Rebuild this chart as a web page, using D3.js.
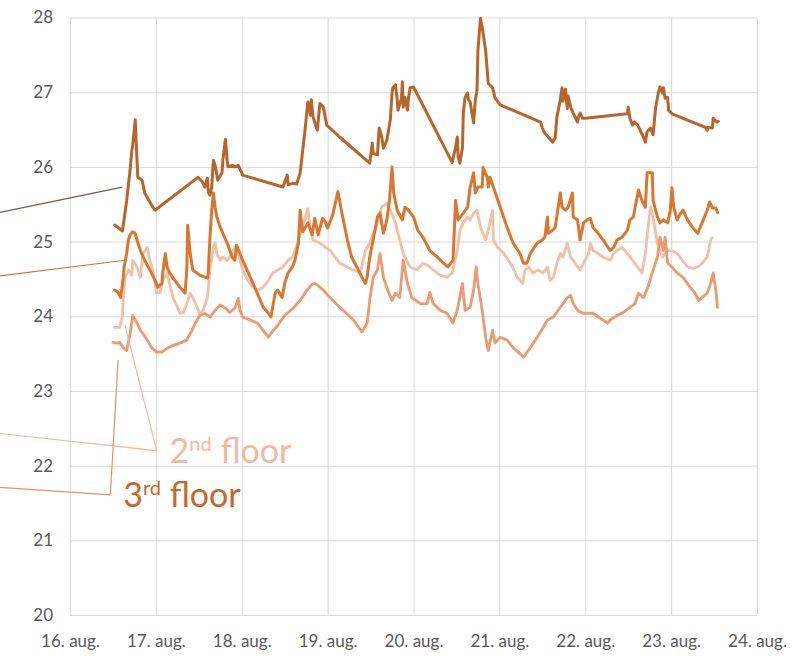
<!DOCTYPE html>
<html>
<head>
<meta charset="utf-8">
<script src="https://cdn.jsdelivr.net/npm/d3@7"></script>
<style>
  html, body { margin: 0; padding: 0; background: #fff; }
  svg { display: block; }
  .tick text { font-family: Lato, "Open Sans", sans-serif; fill: #595959; }
</style>
</head>
<body>
<svg id="chart" width="794" height="656"></svg>
<script>
// Indoor temperature (°C), 16–24 August; time = day of month with fraction of day.
const dayTicks = [16, 17, 18, 19, 20, 21, 22, 23, 24];
const tempTicks = [20, 21, 22, 23, 24, 25, 26, 27, 28];

const upperSeriesA = [
  [16.52,25.22],[16.56,25.19],[16.61,25.14],[16.64,25.38],[16.66,25.55],[16.68,25.76],[16.70,25.96],
  [16.72,26.22],[16.73,26.29],[16.76,26.63],[16.78,26.09],[16.79,25.86],[16.84,25.82],[16.87,25.65],
  [16.97,25.45],[16.99,25.42],[17.49,25.86],[17.54,25.80],[17.57,25.73],[17.60,25.85],[17.61,25.66],
  [17.63,25.62],[17.65,25.73],[17.67,26.09],[17.69,26.02],[17.71,25.89],[17.72,25.82],[17.77,25.92],
  [17.78,26.09],[17.81,26.37],[17.83,26.09],[17.84,26.00],[17.89,26.02],[17.92,26.00],[17.96,26.02],
  [18.00,25.92],[18.01,25.89],[18.48,25.73],[18.53,25.89],[18.54,25.76],[18.59,25.78],[18.64,25.77],
  [18.68,25.92],[18.70,26.12],[18.74,26.53],[18.76,26.76],[18.77,26.87],[18.80,26.69],[18.81,26.90],
  [18.83,26.67],[18.88,26.49],[18.91,26.85],[18.95,26.80],[18.99,26.56],[19.14,26.40],[19.49,26.05],
  [19.52,26.32],[19.53,26.18],[19.58,26.16],[19.60,26.52],[19.63,26.40],[19.65,26.25],[19.69,26.36],
  [19.73,26.63],[19.75,26.99],[19.76,27.06],[19.79,27.10],[19.81,26.90],[19.82,26.76],[19.86,26.92],
  [19.87,27.14],[19.88,26.80],[19.90,26.93],[19.93,26.76],[19.94,26.90],[19.96,27.06],[20.00,27.07],
  [20.45,26.06],[20.49,26.26],[20.51,26.40],[20.52,26.13],[20.54,26.05],[20.57,26.26],[20.58,26.72],
  [20.60,26.93],[20.63,26.99],[20.64,26.90],[20.66,26.87],[20.68,26.72],[20.70,26.59],[20.72,26.90],
  [20.74,27.03],[20.75,27.56],[20.78,27.99],[20.80,27.87],[20.84,27.56],[20.87,27.12],[20.92,27.06],
  [20.95,26.92],[21.01,26.83],[21.48,26.60],[21.50,26.52],[21.53,26.45],[21.57,26.40],[21.62,26.33],
  [21.65,26.39],[21.67,26.67],[21.71,26.90],[21.73,27.06],[21.74,26.88],[21.77,27.04],[21.79,26.78],
  [21.80,26.95],[21.83,26.80],[21.86,26.72],[21.91,26.60],[21.92,26.67],[21.94,26.72],[21.97,26.65],
  [22.00,26.65],[22.49,26.71],[22.50,26.80],[22.52,26.65],[22.55,26.56],[22.57,26.60],[22.61,26.56],
  [22.64,26.49],[22.68,26.39],[22.70,26.33],[22.72,26.47],[22.76,26.52],[22.79,26.43],[22.82,26.80],
  [22.84,26.92],[22.85,26.99],[22.87,27.07],[22.90,26.99],[22.91,27.06],[22.93,26.92],[22.96,26.93],
  [22.97,26.76],[23.01,26.71],[23.40,26.53],[23.42,26.49],[23.43,26.53],[23.48,26.52],[23.49,26.65],
  [23.53,26.60],[23.55,26.61]
];

const upperSeriesB = [
  [16.52,24.35],[16.56,24.32],[16.59,24.25],[16.62,24.52],[16.63,24.66],[16.66,24.84],[16.68,25.02],
  [16.70,25.09],[16.73,25.13],[16.76,25.11],[16.78,25.02],[16.82,24.88],[16.87,24.75],[16.93,24.62],
  [16.99,24.48],[17.02,24.39],[17.07,24.44],[17.08,24.58],[17.11,24.84],[17.13,24.66],[17.16,24.58],
  [17.22,24.48],[17.28,24.39],[17.34,24.31],[17.36,24.62],[17.37,25.22],[17.40,24.84],[17.43,24.62],
  [17.51,24.55],[17.60,24.51],[17.61,24.58],[17.63,25.06],[17.65,25.42],[17.67,25.65],[17.69,25.46],
  [17.71,25.33],[17.75,25.19],[17.83,24.98],[17.89,24.79],[17.92,24.75],[17.94,24.95],[17.98,24.84],
  [18.01,24.75],[18.10,24.52],[18.18,24.31],[18.25,24.12],[18.31,24.04],[18.34,23.99],[18.36,24.12],
  [18.39,24.31],[18.42,24.35],[18.47,24.25],[18.50,24.44],[18.54,24.58],[18.59,24.66],[18.62,24.75],
  [18.66,24.98],[18.68,25.42],[18.71,25.13],[18.77,25.25],[18.82,25.09],[18.85,25.31],[18.89,25.09],
  [18.94,25.31],[18.97,25.27],[19.00,25.18],[19.06,25.36],[19.12,25.67],[19.17,25.36],[19.23,25.02],
  [19.28,24.79],[19.34,24.66],[19.40,24.52],[19.44,24.44],[19.46,24.52],[19.49,24.79],[19.53,25.02],
  [19.58,25.33],[19.61,25.38],[19.65,25.11],[19.69,25.29],[19.72,25.55],[19.75,26.00],[19.77,25.65],
  [19.81,25.42],[19.87,25.29],[19.90,25.46],[19.94,25.42],[20.00,25.33],[20.05,25.15],[20.11,25.06],
  [20.19,24.88],[20.28,24.79],[20.35,24.71],[20.40,24.66],[20.46,24.75],[20.49,25.55],[20.52,25.29],
  [20.58,25.38],[20.63,25.46],[20.66,25.73],[20.70,25.92],[20.72,25.65],[20.75,25.73],[20.80,25.73],
  [20.81,25.99],[20.86,25.86],[20.87,25.73],[20.89,25.86],[20.93,25.73],[21.01,25.46],[21.09,25.19],
  [21.16,24.98],[21.24,24.84],[21.28,24.71],[21.32,24.71],[21.36,24.84],[21.44,24.98],[21.50,25.02],
  [21.53,25.06],[21.56,25.33],[21.57,25.11],[21.62,25.15],[21.65,25.19],[21.71,25.65],[21.73,25.46],
  [21.77,25.42],[21.80,25.46],[21.85,25.65],[21.86,25.33],[21.91,25.29],[21.94,25.02],[21.98,25.25],
  [22.02,25.29],[22.06,25.31],[22.09,25.19],[22.15,25.11],[22.21,25.02],[22.29,24.88],[22.33,24.92],
  [22.37,25.02],[22.43,25.06],[22.49,25.15],[22.52,25.29],[22.56,25.33],[22.62,25.69],[22.66,25.55],
  [22.70,25.46],[22.72,25.92],[22.78,25.92],[22.79,25.55],[22.84,25.33],[22.87,25.25],[22.91,25.29],
  [22.96,25.25],[22.99,25.42],[23.01,25.72],[23.03,25.46],[23.07,25.29],[23.11,25.38],[23.14,25.42],
  [23.19,25.29],[23.25,25.19],[23.31,25.11],[23.36,25.25],[23.42,25.42],[23.45,25.53],[23.48,25.45],
  [23.52,25.45],[23.54,25.39]
];

const secondFloor = [
  [16.52,23.85],[16.58,23.85],[16.61,23.99],[16.62,24.21],[16.64,24.52],[16.68,24.62],[16.72,24.55],
  [16.73,24.75],[16.78,24.66],[16.82,24.52],[16.85,24.84],[16.90,24.92],[16.93,24.75],[16.97,24.58],
  [17.01,24.31],[17.05,24.32],[17.08,24.48],[17.13,24.58],[17.16,24.44],[17.20,24.25],[17.25,24.12],
  [17.28,24.04],[17.32,24.05],[17.36,24.17],[17.40,24.31],[17.43,24.25],[17.48,24.12],[17.51,24.04],
  [17.55,24.08],[17.60,24.25],[17.63,24.62],[17.67,24.92],[17.69,24.98],[17.71,24.84],[17.75,24.75],
  [17.78,24.79],[17.83,24.75],[17.86,24.79],[17.90,24.88],[17.94,24.95],[17.98,24.75],[18.01,24.62],
  [18.07,24.48],[18.13,24.39],[18.19,24.35],[18.25,24.39],[18.31,24.48],[18.36,24.58],[18.42,24.62],
  [18.48,24.66],[18.54,24.75],[18.59,24.79],[18.62,24.88],[18.66,25.02],[18.70,25.19],[18.74,25.31],
  [18.77,25.44],[18.80,25.15],[18.83,25.02],[18.91,24.98],[19.03,24.88],[19.14,24.71],[19.30,24.62],
  [19.38,24.58],[19.44,24.88],[19.49,24.98],[19.58,25.25],[19.63,25.46],[19.69,25.51],[19.73,25.42],
  [19.79,25.25],[19.84,25.02],[19.88,24.84],[19.96,24.66],[20.04,24.62],[20.11,24.71],[20.17,24.68],
  [20.23,24.62],[20.31,24.55],[20.39,24.52],[20.45,24.58],[20.51,24.88],[20.54,25.15],[20.58,25.25],
  [20.63,25.33],[20.66,25.29],[20.70,25.38],[20.74,25.42],[20.78,25.19],[20.84,25.02],[20.87,25.15],
  [20.92,25.42],[20.93,25.02],[20.98,24.92],[21.05,24.84],[21.13,24.71],[21.21,24.52],[21.27,24.44],
  [21.30,24.62],[21.34,24.66],[21.39,24.58],[21.45,24.62],[21.51,24.58],[21.56,24.66],[21.59,24.48],
  [21.63,24.52],[21.67,24.71],[21.71,24.84],[21.74,24.79],[21.79,24.98],[21.83,24.79],[21.86,24.75],
  [21.91,24.66],[21.94,24.62],[21.98,24.71],[22.04,24.84],[22.06,24.98],[22.09,24.88],[22.15,24.84],
  [22.21,24.79],[22.29,24.75],[22.33,24.84],[22.37,24.88],[22.43,24.92],[22.49,24.84],[22.55,24.75],
  [22.61,24.66],[22.66,24.58],[22.70,24.84],[22.73,25.19],[22.76,25.46],[22.79,25.33],[22.84,24.98],
  [22.90,24.79],[22.96,24.88],[23.01,24.88],[23.07,24.84],[23.13,24.75],[23.19,24.66],[23.25,24.64],
  [23.31,24.66],[23.36,24.71],[23.42,24.79],[23.46,25.02],[23.48,25.05]
];

const thirdFloor = [
  [16.50,23.65],[16.55,23.64],[16.58,23.65],[16.62,23.58],[16.66,23.54],[16.70,23.77],[16.73,24.01],
  [16.78,23.91],[16.82,23.81],[16.85,23.77],[16.90,23.68],[16.95,23.58],[17.01,23.52],[17.07,23.52],
  [17.13,23.57],[17.20,23.61],[17.28,23.64],[17.36,23.68],[17.42,23.81],[17.46,23.91],[17.51,24.01],
  [17.57,24.04],[17.63,23.99],[17.69,24.08],[17.75,24.15],[17.81,24.11],[17.86,24.05],[17.92,24.11],
  [17.96,24.24],[17.98,24.08],[18.01,23.99],[18.10,23.95],[18.18,23.91],[18.25,23.81],[18.31,23.72],
  [18.36,23.80],[18.42,23.88],[18.50,24.01],[18.60,24.11],[18.68,24.21],[18.76,24.35],[18.82,24.43],
  [18.85,24.44],[18.89,24.41],[18.95,24.35],[19.06,24.21],[19.18,24.08],[19.30,23.95],[19.40,23.79],
  [19.46,23.91],[19.49,24.21],[19.53,24.52],[19.58,24.62],[19.61,24.84],[19.65,24.52],[19.70,24.35],
  [19.75,24.21],[19.79,24.31],[19.84,24.25],[19.88,24.75],[19.93,24.44],[19.98,24.25],[20.08,24.17],
  [20.16,24.17],[20.19,24.32],[20.23,24.17],[20.31,24.08],[20.39,24.04],[20.46,23.91],[20.51,24.08],
  [20.57,24.44],[20.60,24.08],[20.66,24.12],[20.70,24.35],[20.73,24.66],[20.75,24.44],[20.80,24.08],
  [20.84,23.72],[20.87,23.54],[20.92,23.81],[20.95,23.64],[21.01,23.72],[21.09,23.68],[21.16,23.58],
  [21.24,23.50],[21.28,23.45],[21.36,23.58],[21.44,23.72],[21.51,23.85],[21.56,23.95],[21.63,23.99],
  [21.71,24.12],[21.79,24.25],[21.83,24.28],[21.86,24.17],[21.91,24.08],[21.97,24.04],[22.02,24.04],
  [22.09,24.04],[22.18,23.97],[22.26,23.91],[22.29,23.95],[22.37,24.01],[22.44,24.05],[22.52,24.12],
  [22.58,24.17],[22.62,24.31],[22.68,24.25],[22.73,24.39],[22.79,24.62],[22.84,24.79],[22.87,25.06],
  [22.91,24.88],[22.93,25.06],[22.96,24.71],[23.01,24.66],[23.07,24.58],[23.14,24.52],[23.22,24.39],
  [23.28,24.31],[23.32,24.21],[23.36,24.25],[23.42,24.31],[23.46,24.44],[23.49,24.58],[23.52,24.35],
  [23.54,24.12]
];

const svg = d3.select("#chart");
const plot = { left: 70, right: 757, top: 17.5, bottom: 615 };

const x = d3.scaleLinear().domain([16, 24]).range([plot.left, plot.right]);
const y = d3.scaleLinear().domain([20, 28]).range([plot.bottom, plot.top]);

// Grid + axes
const yAxis = d3.axisLeft(y).tickValues(tempTicks).tickFormat(d3.format("d"))
  .tickSize(-(plot.right - plot.left)).tickPadding(17);
const gy = svg.append("g").attr("transform", `translate(${plot.left},0)`).call(yAxis);
gy.select(".domain").remove();
gy.selectAll(".tick line").attr("stroke", "#d9d9d9").attr("stroke-width", 1);
gy.selectAll(".tick text").attr("font-size", 17);

const xAxis = d3.axisBottom(x).tickValues(dayTicks).tickFormat(d => `${d}. aug.`)
  .tickSize(-(plot.bottom - plot.top)).tickPadding(20);
const gx = svg.append("g").attr("transform", `translate(0,${plot.bottom})`).call(xAxis);
gx.select(".domain").remove();
gx.selectAll(".tick line").attr("stroke", "#d9d9d9").attr("stroke-width", 1);
gx.selectAll(".tick text").attr("font-size", 17);

// Series lines
const line = d3.line().x(d => x(d[0])).y(d => y(d[1]));
const series = [
  { data: secondFloor, color: "#f2bfa9", width: 2.8 },
  { data: thirdFloor, color: "#eb9a72", width: 2.8 },
  { data: upperSeriesB, color: "#d8772f", width: 3 },
  { data: upperSeriesA, color: "#b8652b", width: 3 }
];
svg.append("g").selectAll("path").data(series).join("path")
  .attr("d", s => line(s.data))
  .attr("fill", "none")
  .attr("stroke", s => s.color)
  .attr("stroke-width", s => s.width)
  .attr("stroke-linejoin", "round")
  .attr("stroke-linecap", "round");

// Leader lines to series labels (coordinates in day / °C)
const leaders = [
  { pts: [[15.185, 25.39], [16.61, 25.73]], color: "#7d5640" },
  { pts: [[15.185, 24.54], [16.64, 24.75]], color: "#c87a45" },
  { pts: [[15.185, 22.43], [17.01, 22.20], [16.64, 23.88]], color: "#f0b9a2" },
  { pts: [[15.185, 21.71], [16.47, 21.61], [16.56, 23.41]], color: "#e0935f" }
];
svg.append("g").selectAll("path").data(leaders).join("path")
  .attr("d", l => line(l.pts))
  .attr("fill", "none")
  .attr("stroke", l => l.color)
  .attr("stroke-width", 1.2);

// Floor labels
const labels = [
  { at: [17.16, 22.04], base: "2", sup: "nd", rest: " floor", color: "#f2b99f" },
  { at: [16.62, 21.44], base: "3", sup: "rd", rest: " floor", color: "#c4692c" }
];
labels.forEach(l => {
  const t = svg.append("text")
    .attr("x", x(l.at[0])).attr("y", y(l.at[1]))
    .attr("font-family", "Lato, 'Open Sans', sans-serif")
    .attr("font-size", 34)
    .attr("fill", l.color);
  t.append("tspan").text(l.base);
  t.append("tspan").attr("font-size", 20).attr("dy", -12).text(l.sup);
  t.append("tspan").attr("dy", 12).text(l.rest);
});
</script>
</body>
</html>
